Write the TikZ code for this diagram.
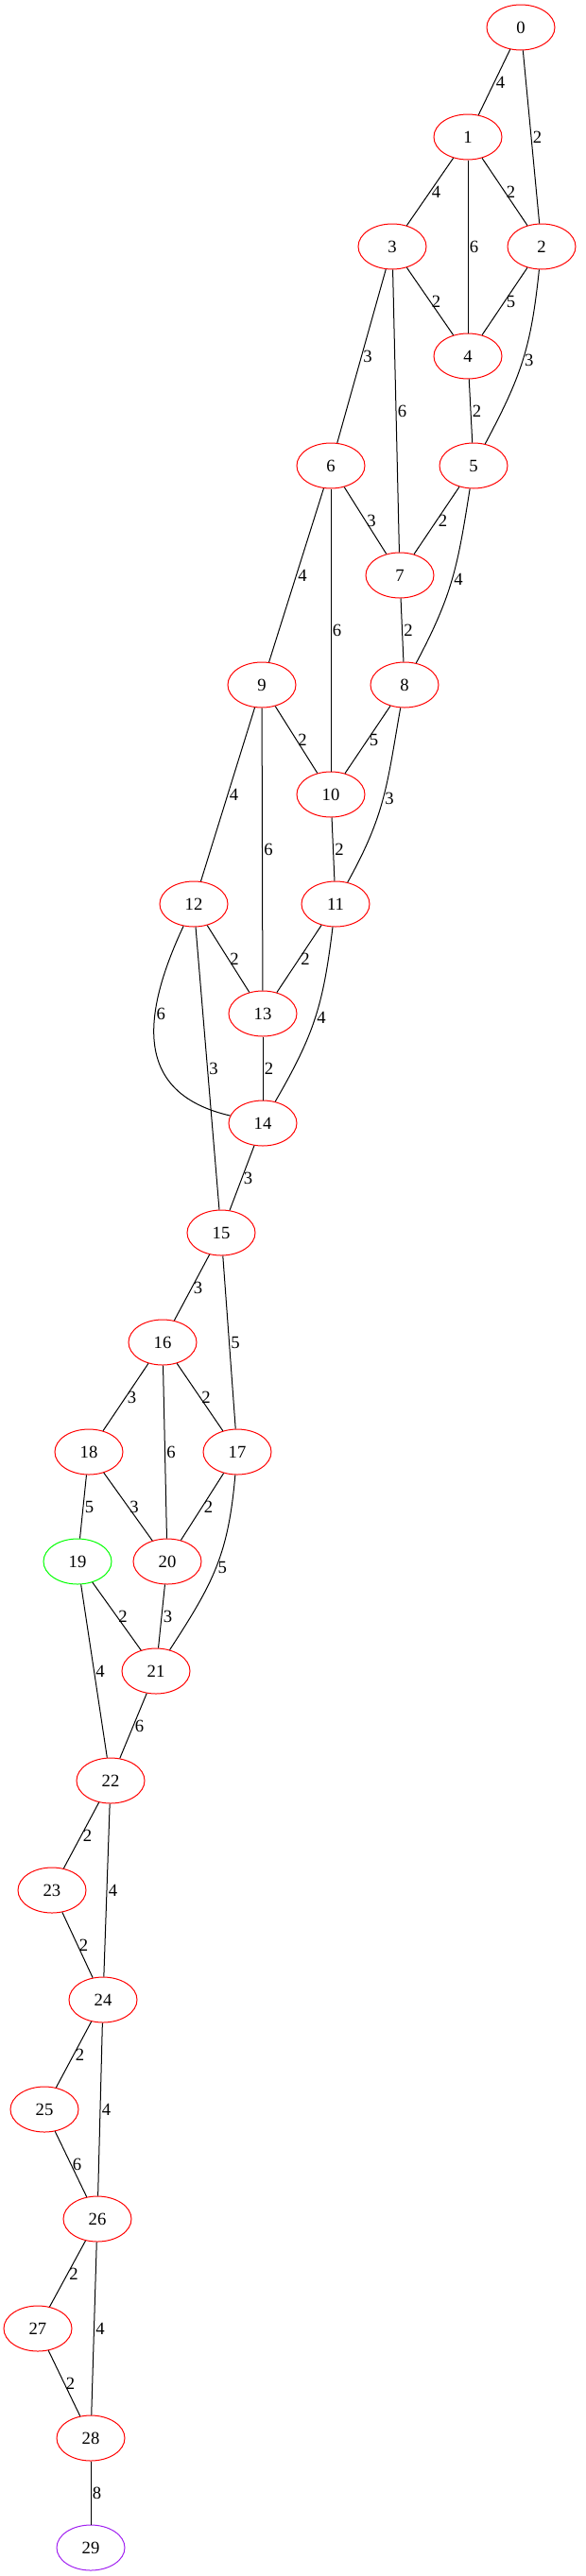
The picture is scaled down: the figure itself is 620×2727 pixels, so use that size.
\documentclass[tikz,border=0pt]{standalone}
\usepackage{fontspec}
\setmainfont{Liberation Serif}
\usetikzlibrary{shapes.geometric}
\definecolor{gvgreen}{HTML}{00FF00}
\definecolor{gvpurple}{HTML}{A020F0}
\begin{document}
\begin{tikzpicture}[x=0.75pt,y=0.75pt,
        vert/.style={ellipse,draw=red,line width=0.75pt,minimum width=54pt,minimum height=36pt,inner sep=0pt,font=\fontsize{14pt}{16pt}\selectfont},
        wt/.style={anchor=west,inner sep=1pt,font=\fontsize{14pt}{16pt}\selectfont},
        link/.style={line width=0.75pt}]
        \useasboundingbox (0,0) rectangle (620,-2727);
        % vertices, rank by rank
        \foreach \i/\x/\y in {0/551/29, 1/495/145, 2/573/261, 3/415/261, 4/495/377,
                5/501/493, 6/350/493, 7/423/609, 8/428/725, 9/277/725, 10/350/841,
                11/355/957, 12/205/957, 13/278/1073, 14/278/1189, 15/234/1305,
                16/172/1421, 17/251/1537, 18/94/1537, 20/177/1653, 21/165/1769,
                22/117/1885, 23/55/2001, 24/109/2117, 25/47/2233, 26/103/2349,
                27/40/2465, 28/96/2581}
            \node[vert] (n\i) at (\x,-\y) {\i};
        \node[vert,draw=gvgreen] (n19) at (82,-1653) {19};
        \node[vert,draw=gvpurple] (n29) at (96,-2697) {29};
        % straight edges with weights
        \foreach \a/\b/\w in {0/1/4, 0/2/2, 1/3/4, 1/4/6, 1/2/2, 3/4/2, 3/6/3, 3/7/6,
                2/4/5, 4/5/2, 6/7/3, 6/9/4, 6/10/6, 5/7/2, 7/8/2, 9/10/2, 9/12/4,
                9/13/6, 8/10/5, 10/11/2, 12/13/2, 12/15/3, 11/13/2, 13/14/2, 14/15/3,
                15/16/3, 15/17/5, 16/18/3, 16/20/6, 16/17/2, 18/19/5, 18/20/3,
                17/20/2, 19/21/2, 19/22/4, 20/21/3, 21/22/6, 22/23/2, 22/24/4,
                23/24/2, 24/25/2, 24/26/4, 25/26/6, 26/27/2, 26/28/4, 27/28/2, 28/29/8}
            \draw[link] (n\a) -- node[wt] {\w} (n\b);
        % bent edges
        \draw[link] (n2) to[out=-96,in=62,looseness=1.1] node[wt] {3} (n5);
        \draw[link] (n5) to[out=-99,in=62,looseness=1.1] node[wt] {4} (n8);
        \draw[link] (n8) to[out=-100,in=61,looseness=1.1] node[wt] {3} (n11);
        \draw[link] (n11) to[out=-97,in=60,looseness=1.1] node[wt] {4} (n14);
        \draw[link] (n17) to[out=-95,in=57,looseness=1.1] node[wt] {5} (n21);
        \draw[link] (n12) to[out=-115,in=167,looseness=1.3] node[wt,pos=0.35] {6} (n14);
\end{tikzpicture}
\end{document}
